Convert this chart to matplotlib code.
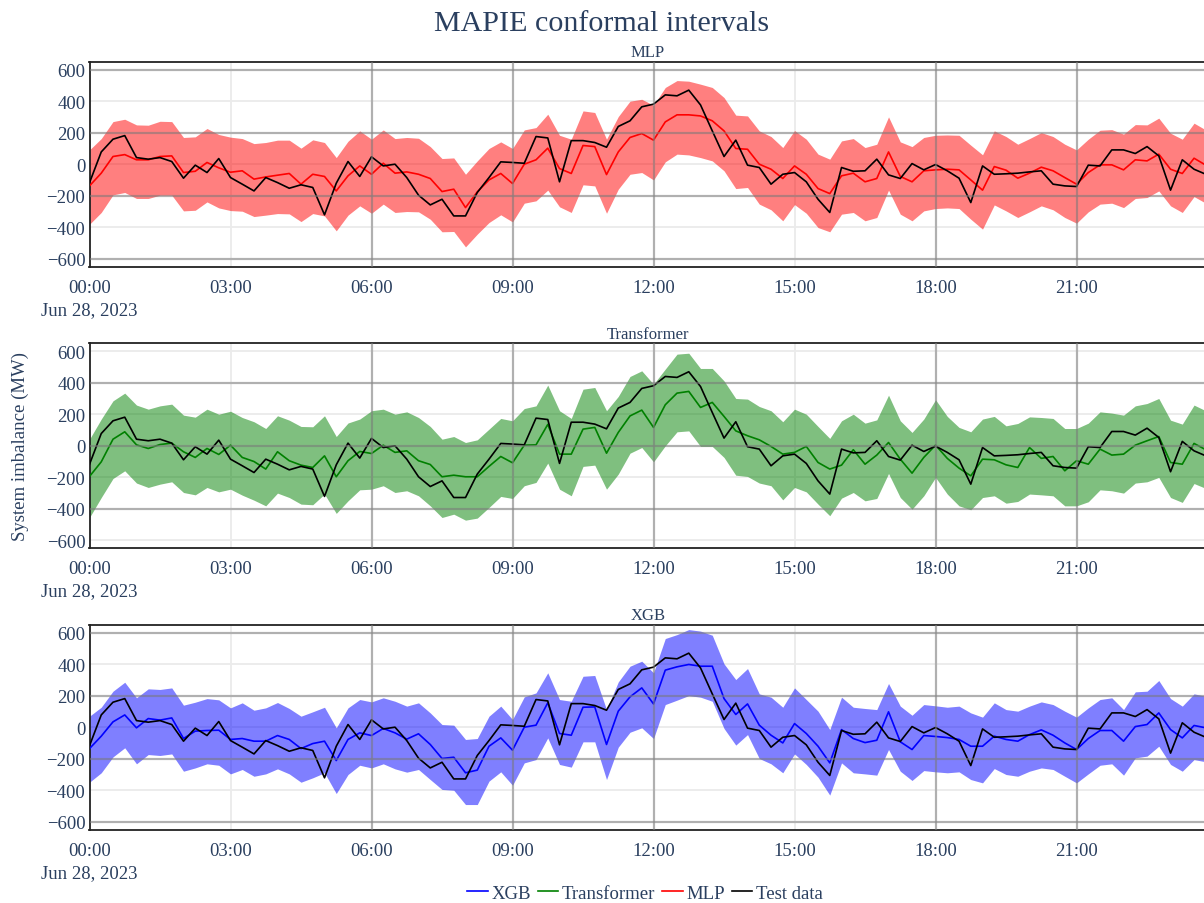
import numpy as np
import pandas as pd
import matplotlib
matplotlib.use('Agg')
import matplotlib.pyplot as plt
from matplotlib.lines import Line2D

plt.rcParams['font.family'] = ['Liberation Serif', 'DejaVu Serif']

# 15 minute steps over one day
times = pd.date_range('2023-06-28 00:00', periods=96, freq='15min')

test_data = [-118, 78, 159, 182, 42, 32, 42, 17, -89, -6, -53, 36, -85, -127, -170, -85, -117, -153, -131, -148,
             -322, -121, 17, -78, 47, -11, 0, -85, -197, -259, -223, -329, -329, -180, -85, 15, 11, 6, 176, 167,
             -112, 150, 150, 138, 108, 240, 276, 365, 382, 441, 435, 471, 377, 212, 49, 153, -6, -21, -127, -64,
             -53, -112, -223, -307, -21, -45, -42, 32, -68, -91, 4, -36, -2, -42, -89, -244, -11, -64, -61, -57,
             -49, -42, -127, -138, -142, -6, -11, 91, 91, 68, 112, 53, -165, 28, -32, -64]

mlp_pred = [-138, -57, 49, 61, 28, 28, 49, 53, -53, -45, 11, -23, -51, -42, -95, -81, -70, -59, -127, -64,
            -78, -170, -74, -11, -64, 6, -57, -49, -64, -91, -174, -159, -276, -176, -100, -59, -123, 0, 28, 102,
            -28, -59, 119, 112, -66, 78, 170, 195, 153, 269, 314, 314, 307, 276, 212, 100, 95, 0, -32, -91,
            -11, -64, -155, -187, -74, -57, -112, -91, 78, -78, -112, -42, -36, -32, -36, -100, -165, -15, -38, -89,
            -57, -19, -42, -85, -127, -53, -4, -4, -36, 28, 21, 64, -32, -59, 38, -6]
mlp_upper = [91, 163, 271, 286, 250, 248, 273, 271, 170, 174, 227, 189, 172, 163, 131, 138, 153, 153, 102, 155,
             138, 42, 146, 212, 159, 218, 163, 170, 165, 112, 36, 40, -64, 21, 100, 142, 100, 218, 233, 318,
             184, 159, 339, 329, 159, 303, 401, 413, 375, 488, 532, 528, 509, 488, 424, 312, 307, 212, 176, 106,
             214, 159, 64, 32, 148, 163, 106, 127, 301, 142, 112, 170, 184, 186, 184, 121, 60, 212, 176, 127,
             163, 201, 176, 127, 91, 159, 216, 220, 191, 252, 250, 293, 197, 159, 261, 218]
mlp_lower = [-382, -307, -195, -180, -218, -218, -197, -197, -297, -293, -240, -278, -295, -299, -333, -324, -314, -316, -365, -314,
             -329, -424, -324, -265, -312, -254, -307, -301, -303, -350, -430, -428, -526, -445, -371, -322, -367, -248, -233, -165,
             -271, -307, -131, -138, -312, -159, -64, -53, -100, 15, 64, 59, 42, 21, -42, -155, -148, -254, -290, -360,
             -257, -312, -403, -430, -318, -307, -360, -339, -165, -318, -360, -297, -282, -278, -282, -350, -413, -259, -297, -339,
             -303, -265, -290, -339, -375, -303, -254, -248, -276, -218, -212, -170, -265, -307, -206, -248]

tf_pred = [-195, -102, 42, 89, 6, -17, 8, 17, -38, -74, -17, -55, 4, -74, -100, -148, -38, -95, -123, -138,
           -64, -197, -95, -36, -49, 4, -42, -32, -95, -119, -197, -187, -197, -197, -131, -68, -108, 4, 6, 136,
           -53, -53, 106, 117, -47, 85, 190, 227, 117, 261, 335, 346, 244, 276, 187, 95, 64, 38, -4, -53,
           -42, -4, -106, -148, -123, -25, -117, -59, 21, -85, -174, -74, 4, -80, -142, -191, -85, -89, -121, -138,
           -11, -80, -68, -159, -95, -117, -21, -59, -53, 4, 32, 59, -106, -117, 15, -25]
tf_upper = [42, 170, 286, 335, 259, 233, 254, 265, 195, 182, 233, 201, 220, 180, 153, 110, 191, 163, 123, 121,
            191, 59, 145, 170, 223, 233, 201, 216, 180, 123, 42, 59, 21, 38, 106, 174, 159, 237, 254, 386,
            223, 174, 360, 371, 223, 314, 441, 477, 392, 488, 583, 589, 492, 492, 413, 301, 297, 250, 223, 153,
            233, 201, 123, 47, 159, 201, 144, 165, 322, 159, 85, 170, 293, 187, 117, 89, 170, 187, 127, 142,
            184, 180, 174, 110, 110, 144, 216, 208, 195, 254, 269, 301, 163, 138, 259, 223]
tf_lower = [-456, -329, -208, -159, -237, -265, -244, -229, -297, -312, -265, -293, -276, -314, -346, -382, -301, -329, -371, -375,
            -307, -430, -350, -280, -276, -254, -297, -286, -318, -382, -456, -435, -473, -460, -392, -322, -335, -254, -233, -110,
            -276, -318, -131, -123, -276, -180, -47, -11, -102, 0, 89, 95, -4, -4, -74, -187, -195, -237, -254, -344,
            -265, -293, -371, -445, -333, -297, -350, -335, -176, -329, -403, -318, -201, -307, -382, -407, -329, -318, -365, -354,
            -307, -312, -318, -382, -382, -356, -280, -286, -301, -237, -229, -201, -329, -360, -240, -271]

xgb_pred = [-136, -57, 34, 78, -4, 55, 45, 59, -72, -25, -21, -19, -78, -72, -89, -89, -53, -78, -136, -104,
            -89, -212, -78, -36, -53, -8, -36, -76, -42, -110, -199, -191, -290, -273, -121, -68, -146, 0, 13, 155,
            -40, -51, 127, 129, -110, 102, 193, 250, 148, 363, 384, 399, 388, 388, 182, 81, 148, 13, -51, -100,
            23, -40, -121, -227, -15, -72, -98, -83, 98, -93, -142, -53, -59, -66, -78, -121, -121, -57, -78, -89,
            -47, -17, -51, -100, -142, -72, -21, -21, -89, 4, 17, 91, -15, -68, 11, -4]
xgb_upper = [70, 127, 229, 286, 187, 244, 240, 250, 140, 159, 182, 174, 123, 155, 108, 123, 157, 119, 70, 98,
             127, -4, 123, 176, 161, 187, 165, 134, 155, 91, 17, 13, -78, -72, 70, 134, 49, 193, 218, 346,
             176, 165, 324, 329, 112, 288, 388, 420, 346, 564, 589, 621, 611, 585, 403, 303, 373, 212, 191, 127,
             250, 176, 102, -15, 191, 127, 119, 112, 278, 134, 76, 144, 136, 127, 134, 91, 64, 155, 112, 102,
             134, 161, 144, 102, 64, 123, 176, 187, 112, 225, 229, 297, 182, 134, 212, 197]
xgb_lower = [-350, -290, -189, -131, -233, -174, -180, -170, -280, -259, -233, -242, -297, -269, -312, -297, -265, -297, -350, -322,
             -290, -422, -301, -242, -259, -233, -265, -286, -269, -333, -396, -401, -492, -492, -343, -284, -369, -227, -206, -68,
             -237, -254, -93, -93, -333, -127, -32, -4, -72, 144, 172, 201, 191, 165, -8, -114, -47, -199, -233, -290,
             -170, -237, -318, -432, -227, -290, -297, -305, -142, -280, -339, -276, -284, -290, -284, -333, -354, -263, -301, -312,
             -280, -259, -269, -312, -354, -297, -242, -233, -305, -195, -184, -121, -237, -280, -206, -220]

tick_times = pd.date_range('2023-06-28 00:00', periods=8, freq='3h')
tick_labels = ['00:00\nJun 28, 2023', '03:00', '06:00', '09:00', '12:00', '15:00', '18:00', '21:00']
y_ticks = [-600, -400, -200, 0, 200, 400, 600]

models = [
    ('MLP', mlp_pred, mlp_lower, mlp_upper, 'red', [-600, -200, 200, 600]),
    ('Transformer', tf_pred, tf_lower, tf_upper, 'green', [-400, 0, 400]),
    ('XGB', xgb_pred, xgb_lower, xgb_upper, 'blue', [-600, -200, 200, 600]),
]
# hours whose grid lines sit on top of the bands
dark_x = [tick_times[i] for i in (2, 3, 4, 6, 7)]

text_color = '#2a3f5f'
fig = plt.figure(figsize=(12.04, 9.04), dpi=100)

left = 89.5 / 1204
width = (1205.8 - 89.5) / 1204
height = 205 / 904
bottoms = [1 - 267.7 / 904, 1 - 549.3 / 904, 1 - 830.7 / 904]

for (name, pred, lower, upper, color, dark_y), bottom in zip(models, bottoms):
    ax = fig.add_axes([left, bottom, width, height])
    ax.set_axisbelow(True)
    ax.grid(color='#ebebeb', lw=1.3)
    ax.fill_between(times, lower, upper, color=color, alpha=0.5, lw=0, zorder=2)
    ax.plot(times, pred, color=color, lw=1.2, zorder=3)
    ax.plot(times, test_data, color='black', lw=1.2, zorder=4)
    for v in dark_y:
        ax.axhline(v, color='#808080', alpha=0.55, lw=1.6, zorder=5)
    for t in dark_x:
        ax.axvline(t, color='#808080', alpha=0.55, lw=1.6, zorder=5)

    ax.set_xlim(times[0], times[-1])
    ax.set_ylim(-652, 652)
    ax.set_xticks(tick_times)
    ax.set_xticklabels(tick_labels, linespacing=1.4)
    ax.set_yticks(y_ticks)
    ax.tick_params(length=0, labelsize=13.5, labelcolor=text_color)
    ax.tick_params(axis='x', pad=8.5)
    ax.tick_params(axis='y', pad=3)
    for side in ('top', 'bottom', 'left'):
        ax.spines[side].set_color('#222222')
        ax.spines[side].set_linewidth(1.3)
    ax.spines['right'].set_visible(False)
    ax.set_title(name, fontsize=12, color=text_color, pad=4)

fig.suptitle('MAPIE conformal intervals', x=0.5, y=1 - 11 / 904, va='top',
             fontsize=21.6, color=text_color)
fig.text(0.017, 1 - 446.7 / 904, 'System imbalance (MW)', rotation=90,
         ha='center', va='center', fontsize=13.5, color=text_color)

handles = [Line2D([], [], color='blue', lw=1.2),
           Line2D([], [], color='green', lw=1.2),
           Line2D([], [], color='red', lw=1.2),
           Line2D([], [], color='black', lw=1.2)]
leg = fig.legend(handles, ['XGB', 'Transformer', 'MLP', 'Test data'], loc='center',
                 bbox_to_anchor=(645 / 1204, 1 - 894 / 904), ncol=4, frameon=False,
                 fontsize=13.5, handlelength=1.1, handletextpad=0.2, columnspacing=0.35,
                 borderaxespad=0, borderpad=0)
for t in leg.get_texts():
    t.set_color(text_color)

fig.savefig('out.png', dpi=100)
